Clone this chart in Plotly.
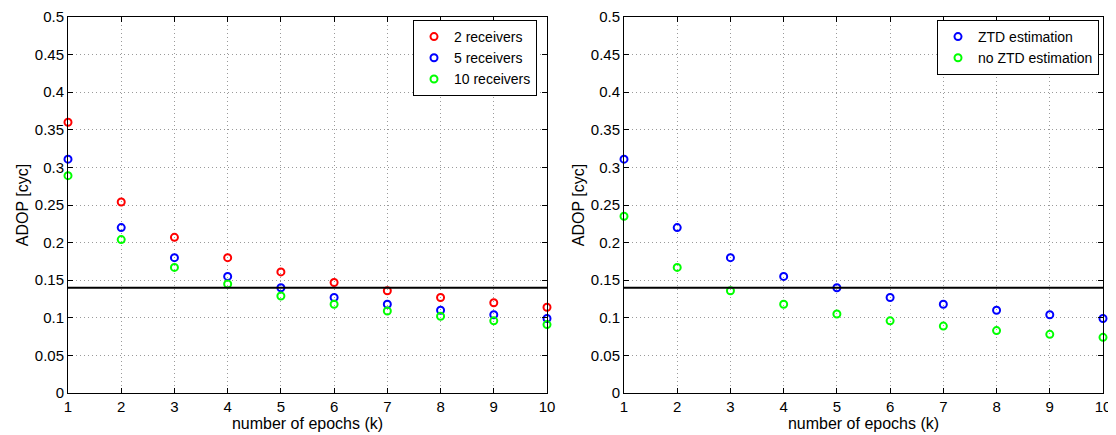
import plotly.graph_objects as go

# ---------------- data ----------------
epochs = [1, 2, 3, 4, 5, 6, 7, 8, 9, 10]

rx2 = [0.360, 0.254, 0.207, 0.180, 0.161, 0.147, 0.136, 0.127, 0.120, 0.114]
rx5 = [0.311, 0.220, 0.180, 0.155, 0.140, 0.127, 0.118, 0.110, 0.104, 0.099]
rx10 = [0.289, 0.204, 0.167, 0.145, 0.129, 0.118, 0.109, 0.102, 0.096, 0.091]

ztd_est = [0.311, 0.220, 0.180, 0.155, 0.140, 0.127, 0.118, 0.110, 0.104, 0.099]
no_ztd_est = [0.235, 0.167, 0.136, 0.118, 0.105, 0.096, 0.089, 0.083, 0.078, 0.074]

threshold = 0.14

y_tickvals = [0, 0.05, 0.1, 0.15, 0.2, 0.25, 0.3, 0.35, 0.4, 0.45, 0.5]
y_ticktext = ["0", "0.05", "0.1", "0.15", "0.2", "0.25", "0.3", "0.35", "0.4", "0.45", "0.5"]
x_tickvals = epochs
x_ticktext = [str(v) for v in epochs]

left_names = ["2 receivers", "5 receivers", "10 receivers"]
right_names = ["ZTD estimation", "no ZTD estimation"]

RED = "#ff0000"
BLUE = "#0000ff"
GREEN = "#00ff00"

FONT = "Liberation Sans, Arial, Helvetica, sans-serif"

# page has an 8px body margin, so the figure is drawn 8px in from the top-left
W, H = 1108, 427
M_T, M_B = 9, 42
PLOT_H = H - M_T - M_B

fig = go.Figure()


def add_pts(x, y, name, color, xa, ya, legend):
    fig.add_trace(go.Scatter(
        x=x, y=y, mode="markers", name=name,
        marker=dict(symbol="circle-open", size=7, color=color,
                    line=dict(width=2, color=color)),
        xaxis=xa, yaxis=ya, legend=legend, cliponaxis=False,
    ))


add_pts(epochs, rx2, left_names[0], RED, "x", "y", "legend")
add_pts(epochs, rx5, left_names[1], BLUE, "x", "y", "legend")
add_pts(epochs, rx10, left_names[2], GREEN, "x", "y", "legend")

add_pts(epochs, ztd_est, right_names[0], BLUE, "x2", "y2", "legend2")
add_pts(epochs, no_ztd_est, right_names[1], GREEN, "x2", "y2", "legend2")

# threshold lines
for xa, ya in (("x", "y"), ("x2", "y2")):
    fig.add_shape(type="line", xref=f"{xa} domain", yref=ya,
                  x0=0, x1=1, y0=threshold, y1=threshold,
                  line=dict(color="black", width=2), layer="above")

common_axis = dict(
    showline=True, linecolor="black", linewidth=1, mirror="allticks",
    ticks="inside", ticklen=5, tickcolor="black", tickwidth=1,
    showgrid=True, gridcolor="#9a9a9a", griddash="1px,3px", gridwidth=1,
    zeroline=False, tickfont=dict(family=FONT, size=15, color="black"),
    ticklabeloverflow="allow",
)

xdom1 = [60 / W, 539 / W]
xdom2 = [616 / W, 1095 / W]

xaxis_common = dict(common_axis, range=[1, 10], tickmode="array",
                    tickvals=x_tickvals, ticktext=x_ticktext,
                    title=dict(text="number of epochs (k)", standoff=0,
                               font=dict(family=FONT, size=16, color="black")),
                    automargin=False)
yaxis_common = dict(common_axis, range=[0, 0.5], tickmode="array",
                    tickvals=y_tickvals, ticktext=y_ticktext,
                    title=dict(text="ADOP [cyc]", standoff=2,
                               font=dict(family=FONT, size=16, color="black")),
                    automargin=False)

legend_common = dict(
    bgcolor="white", bordercolor="black", borderwidth=1,
    font=dict(family=FONT, size=14, color="black"),
    xanchor="right", yanchor="top", itemwidth=30,
    tracegroupgap=0,
)

py_top = 1 - (12 - M_T) / PLOT_H

fig.update_layout(
    width=W, height=H,
    margin=dict(l=0, r=0, t=M_T, b=M_B, pad=0),
    paper_bgcolor="white", plot_bgcolor="white",
    font=dict(family=FONT, size=15, color="black"),
    showlegend=True,
    xaxis=dict(xaxis_common, domain=xdom1, anchor="y"),
    yaxis=dict(yaxis_common, domain=[0, 1], anchor="x"),
    xaxis2=dict(xaxis_common, domain=xdom2, anchor="y2"),
    yaxis2=dict(yaxis_common, domain=[0, 1], anchor="x2"),
    legend=dict(legend_common, x=529 / W, y=py_top),
    legend2=dict(legend_common, x=1091 / W, y=py_top),
)

fig.write_html("out.html")
